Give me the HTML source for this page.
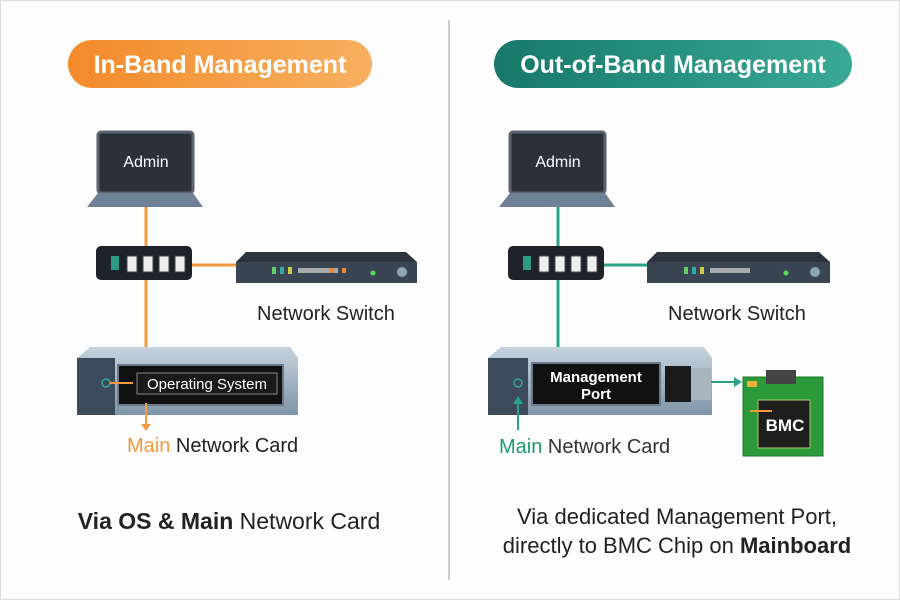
<!DOCTYPE html>
<html><head><style>
body{margin:0;width:900px;height:600px;background:#fff;font-family:"Liberation Sans",sans-serif;overflow:hidden}
</style></head><body>
<svg width="900" height="600" xmlns="http://www.w3.org/2000/svg" font-family="Liberation Sans, sans-serif">
<defs>
<linearGradient id="og" x1="0" x2="1"><stop offset="0" stop-color="#f28a2a"/><stop offset="1" stop-color="#f7b060"/></linearGradient>
<linearGradient id="tg" x1="0" x2="1"><stop offset="0" stop-color="#17786a"/><stop offset="1" stop-color="#3aa995"/></linearGradient>
<linearGradient id="sv" x1="0" x2="0" y1="0" y2="1"><stop offset="0" stop-color="#c5d3df"/><stop offset="1" stop-color="#7f95a8"/></linearGradient>
</defs>
<rect x="0.5" y="0.5" width="899" height="599" fill="#fdfdfd" stroke="#ddd"/>
<line x1="449" y1="20" x2="449" y2="580" stroke="#bbb" stroke-width="1.5"/>
<rect x="68" y="40" width="304" height="48" rx="24" fill="url(#og)"/>
<text x="220" y="73" text-anchor="middle" fill="#fff" font-size="25" font-weight="bold">In-Band Management</text>
<rect x="494" y="40" width="358" height="48" rx="24" fill="url(#tg)"/>
<text x="673" y="73" text-anchor="middle" fill="#fff" font-size="25" font-weight="bold">Out-of-Band Management</text>

<line x1="146" y1="207" x2="146" y2="352" stroke="#f29a3e" stroke-width="3"/>
<line x1="192" y1="265" x2="236" y2="265" stroke="#f29a3e" stroke-width="3"/>
<rect x="98" y="132" width="95" height="61" rx="3" fill="#2b3138" stroke="#5b6470" stroke-width="3"/>
<text x="146" y="167" text-anchor="middle" fill="#fff" font-size="16">Admin</text>
<path d="M98 193 H193 L203 207 H87 Z" fill="#6f8194"/>
<rect x="96" y="246" width="96" height="34" rx="5" fill="#1d2328"/>
<rect x="111" y="256" width="8" height="14" fill="#2f9a84"/>
<g fill="#eee" stroke="#444"><rect x="127" y="256" width="10" height="16"/><rect x="143" y="256" width="10" height="16"/><rect x="159" y="256" width="10" height="16"/><rect x="175" y="256" width="10" height="16"/></g>
<path d="M236 262 L246 252 H406 L417 262 V283 H236 Z" fill="#2c3440"/>
<rect x="236" y="262" width="181" height="21" fill="#3a4553"/>
<g><rect x="272" y="267" width="4" height="7" fill="#6c6"/><rect x="280" y="267" width="4" height="7" fill="#3aa"/><rect x="288" y="267" width="4" height="7" fill="#cc4"/><rect x="298" y="268" width="40" height="5" fill="#aaa"/><rect x="330" y="268" width="4" height="5" fill="#e83"/><rect x="342" y="268" width="4" height="5" fill="#e83"/><circle cx="373" cy="273" r="2.5" fill="#5d5"/><circle cx="402" cy="272" r="5" fill="#8aa"/></g>
<text x="257" y="320" fill="#222" font-size="20">Network Switch</text>
<path d="M77 358 L90 347 H290 L298 358 V415 H77 Z" fill="url(#sv)"/>
<rect x="77" y="358" width="38" height="57" fill="#3c4a5a"/>
<rect x="118" y="365" width="165" height="40" fill="#111" stroke="#6a7b8c" stroke-width="2"/>
<rect x="137" y="373" width="140" height="21" fill="#1a1a1a" stroke="#888"/>
<text x="207" y="389" text-anchor="middle" fill="#fff" font-size="15">Operating System</text>
<circle cx="106" cy="383" r="4" fill="none" stroke="#3a9" stroke-width="1.5"/>
<line x1="110" y1="383" x2="133" y2="383" stroke="#f29a3e" stroke-width="2"/>
<line x1="146" y1="403" x2="146" y2="425" stroke="#f29a3e" stroke-width="2"/>
<path d="M141 424 L151 424 L146 431 Z" fill="#f29a3e"/>
<text x="127" y="452" font-size="20" fill="#222"><tspan fill="#f29a3e">Main</tspan> Network Card</text>
<text x="229" y="529" text-anchor="middle" font-size="23" fill="#222"><tspan font-weight="bold">Via OS &amp; Main</tspan> Network Card</text>

<line x1="558" y1="207" x2="558" y2="352" stroke="#2aa28a" stroke-width="3"/>
<line x1="604" y1="265" x2="647" y2="265" stroke="#2aa28a" stroke-width="3"/>
<rect x="510" y="132" width="95" height="61" rx="3" fill="#2b3138" stroke="#5b6470" stroke-width="3"/>
<text x="558" y="167" text-anchor="middle" fill="#fff" font-size="16">Admin</text>
<path d="M510 193 H605 L615 207 H499 Z" fill="#6f8194"/>
<rect x="508" y="246" width="96" height="34" rx="5" fill="#1d2328"/>
<rect x="523" y="256" width="8" height="14" fill="#2f9a84"/>
<g fill="#eee" stroke="#444"><rect x="539" y="256" width="10" height="16"/><rect x="555" y="256" width="10" height="16"/><rect x="571" y="256" width="10" height="16"/><rect x="587" y="256" width="10" height="16"/></g>
<path d="M647 262 L657 252 H819 L830 262 V283 H647 Z" fill="#2c3440"/>
<rect x="647" y="262" width="183" height="21" fill="#3a4553"/>
<g><rect x="684" y="267" width="4" height="7" fill="#6c6"/><rect x="692" y="267" width="4" height="7" fill="#3aa"/><rect x="700" y="267" width="4" height="7" fill="#cc4"/><rect x="710" y="268" width="40" height="5" fill="#aaa"/><circle cx="786" cy="273" r="2.5" fill="#5d5"/><circle cx="815" cy="272" r="5" fill="#8aa"/></g>
<text x="668" y="320" fill="#222" font-size="20">Network Switch</text>
<path d="M488 358 L501 347 H704 L712 358 V415 H488 Z" fill="url(#sv)"/>
<rect x="488" y="358" width="40" height="57" fill="#3c4a5a"/>
<rect x="532" y="363" width="128" height="42" fill="#111" stroke="#6a7b8c" stroke-width="2"/>
<text x="596" y="382" text-anchor="middle" fill="#fff" font-size="15" font-weight="bold">Management</text>
<text x="596" y="399" text-anchor="middle" fill="#fff" font-size="15" font-weight="bold">Port</text>
<rect x="665" y="366" width="26" height="36" fill="#1a1a1a"/>
<rect x="691" y="368" width="20" height="32" fill="#aab4bd"/>
<circle cx="518" cy="383" r="4" fill="none" stroke="#3a9" stroke-width="1.5"/>
<line x1="518" y1="397" x2="518" y2="430" stroke="#2aa28a" stroke-width="2"/>
<path d="M513 404 L523 404 L518 396 Z" fill="#2aa28a"/>
<line x1="711" y1="382" x2="735" y2="382" stroke="#2aa28a" stroke-width="2"/>
<path d="M734 377 L742 382 L734 387 Z" fill="#2aa28a"/>
<rect x="743" y="377" width="80" height="79" fill="#2a9a3a" stroke="#1d7a2a"/>
<rect x="766" y="370" width="30" height="14" fill="#444"/>
<rect x="747" y="381" width="10" height="6" fill="#e9b43a"/>
<rect x="758" y="400" width="52" height="48" fill="#1e1e1e" stroke="#b5c76a"/>
<text x="785" y="431" text-anchor="middle" fill="#fff" font-size="17" font-weight="bold">BMC</text>
<line x1="750" y1="411" x2="772" y2="411" stroke="#f29a3e" stroke-width="2"/>
<text x="499" y="453" font-size="20" fill="#333"><tspan fill="#1e9a6a">Main</tspan> Network Card</text>
<text x="677" y="524" text-anchor="middle" font-size="22" fill="#222">Via dedicated Management Port,</text>
<text x="677" y="553" text-anchor="middle" font-size="22" fill="#222">directly to BMC Chip on <tspan font-weight="bold">Mainboard</tspan></text>
</svg>
</body></html>
